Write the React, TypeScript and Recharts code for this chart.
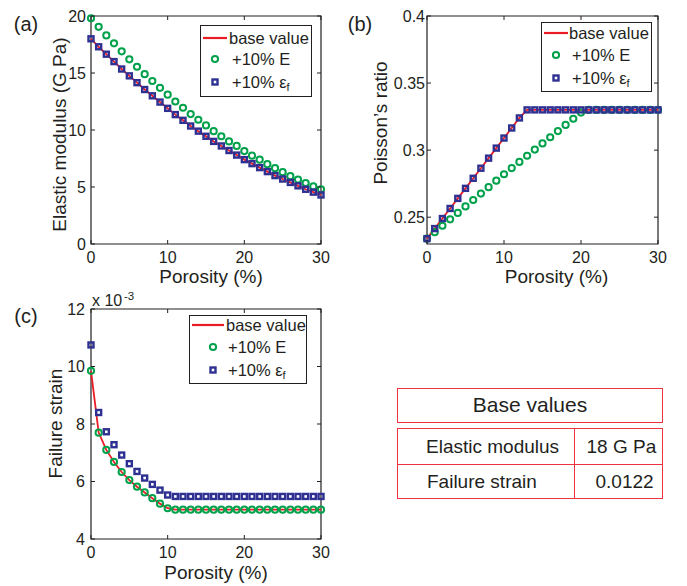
import { LineChart, Line, XAxis, YAxis, ReferenceArea, Legend, Label } from 'recharts';

// porosity (%) on every x axis
const porosity = [0, 1, 2, 3, 4, 5, 6, 7, 8, 9, 10, 11, 12, 13, 14, 15, 16, 17, 18, 19, 20, 21, 22, 23, 24, 25, 26, 27, 28, 29, 30];
const porosityTicks = [0, 10, 20, 30];

// (a) elastic modulus, G Pa
const modulusBase = [18.0, 17.3, 16.65, 16.0, 15.35, 14.75, 14.15, 13.55, 13.0, 12.45, 11.9, 11.35, 10.85, 10.35, 9.9, 9.45, 9.0, 8.6, 8.2, 7.8, 7.4, 7.05, 6.7, 6.35, 6.0, 5.7, 5.4, 5.1, 4.8, 4.55, 4.3];
const modulusE = [19.8, 19.05, 18.3, 17.6, 16.9, 16.2, 15.55, 14.9, 14.3, 13.7, 13.1, 12.5, 11.95, 11.4, 10.9, 10.4, 9.9, 9.45, 9.0, 8.6, 8.15, 7.75, 7.4, 7.0, 6.65, 6.3, 5.95, 5.65, 5.35, 5.05, 4.8];
const modulusEf = [18.0, 17.3, 16.65, 16.0, 15.35, 14.75, 14.15, 13.55, 13.0, 12.45, 11.9, 11.35, 10.85, 10.35, 9.9, 9.45, 9.0, 8.6, 8.2, 7.8, 7.4, 7.05, 6.7, 6.35, 6.0, 5.7, 5.4, 5.1, 4.8, 4.55, 4.3];
const modulusTicks = [0, 5, 10, 15, 20];

// (b) Poisson's ratio
const poissonBase = [0.234, 0.2415, 0.249, 0.2565, 0.264, 0.2715, 0.279, 0.2865, 0.294, 0.3015, 0.309, 0.3165, 0.324, 0.33, 0.33, 0.33, 0.33, 0.33, 0.33, 0.33, 0.33, 0.33, 0.33, 0.33, 0.33, 0.33, 0.33, 0.33, 0.33, 0.33, 0.33];
const poissonE = [0.234, 0.2388, 0.2436, 0.2484, 0.2532, 0.258, 0.2628, 0.2676, 0.2724, 0.2772, 0.282, 0.2866, 0.2912, 0.2958, 0.3004, 0.305, 0.3096, 0.3142, 0.3188, 0.3234, 0.328, 0.33, 0.33, 0.33, 0.33, 0.33, 0.33, 0.33, 0.33, 0.33, 0.33];
const poissonEf = [0.234, 0.2415, 0.249, 0.2565, 0.264, 0.2715, 0.279, 0.2865, 0.294, 0.3015, 0.309, 0.3165, 0.324, 0.33, 0.33, 0.33, 0.33, 0.33, 0.33, 0.33, 0.33, 0.33, 0.33, 0.33, 0.33, 0.33, 0.33, 0.33, 0.33, 0.33, 0.33];
const poissonTicks = [0.25, 0.3, 0.35, 0.4];

// (c) failure strain, x 10^-3
const strainBase = [9.85, 7.7, 7.1, 6.68, 6.33, 6.05, 5.82, 5.62, 5.42, 5.23, 5.07, 5.02, 5.02, 5.02, 5.02, 5.02, 5.02, 5.02, 5.02, 5.02, 5.02, 5.02, 5.02, 5.02, 5.02, 5.02, 5.02, 5.02, 5.02, 5.02, 5.02];
const strainE = [9.85, 7.7, 7.1, 6.68, 6.33, 6.05, 5.82, 5.62, 5.42, 5.23, 5.07, 5.02, 5.02, 5.02, 5.02, 5.02, 5.02, 5.02, 5.02, 5.02, 5.02, 5.02, 5.02, 5.02, 5.02, 5.02, 5.02, 5.02, 5.02, 5.02, 5.02];
const strainEf = [10.75, 8.4, 7.73, 7.28, 6.92, 6.62, 6.35, 6.12, 5.9, 5.7, 5.53, 5.48, 5.48, 5.48, 5.48, 5.48, 5.48, 5.48, 5.48, 5.48, 5.48, 5.48, 5.48, 5.48, 5.48, 5.48, 5.48, 5.48, 5.48, 5.48, 5.48];
const strainTicks = [4, 6, 8, 10, 12];

// base values table
const tableTitle = 'Base values';
const tableRows = [
  ['Elastic modulus', '18 G Pa'],
  ['Failure strain', '0.0122'],
];

const RED = '#ec1c24';
const GREEN = '#00a14b';
const BLUE = '#2e3192';
const INK = '#231f20';
const TABLE_RED = '#ee3340';
const FONT = '"Liberation Sans", Arial, Helvetica, sans-serif';

const buildRows = (base: number[], e: number[], ef: number[]) =>
  porosity.map((p, i) => ({ p, base: base[i], e: e[i], ef: ef[i] }));

type Box = { left: number; top: number; right: number; bottom: number };

const makeXTick = (box: Box) => (props: any) => {
  const { x, payload, index } = props;
  return (
    <g key={`xt-${index}`}>
      <line x1={x} x2={x} y1={box.bottom} y2={box.bottom - 4} stroke={INK} />
      <line x1={x} x2={x} y1={box.top} y2={box.top + 4} stroke={INK} />
      <text x={x} y={box.bottom + 19} textAnchor="middle" fontSize={16} fill={INK} fontFamily={FONT}>
        {payload.value}
      </text>
    </g>
  );
};

const makeYTick = (box: Box, gap: number) => (props: any) => {
  const { y, payload, index } = props;
  return (
    <g key={`yt-${index}`}>
      <line x1={box.left} x2={box.left + 4} y1={y} y2={y} stroke={INK} />
      <line x1={box.right} x2={box.right - 4} y1={y} y2={y} stroke={INK} />
      <text x={box.left - gap} y={y + 5.7} textAnchor="end" fontSize={16} fill={INK} fontFamily={FONT}>
        {payload.value}
      </text>
    </g>
  );
};

const circleDot = (props: any) => {
  const { cx, cy, index } = props;
  if (cx == null || cy == null) return <g key={`c-${index}`} />;
  return <circle key={`c-${index}`} cx={cx} cy={cy} r={3.1} fill="none" stroke={GREEN} strokeWidth={2} />;
};

const squareDot = (props: any) => {
  const { cx, cy, index } = props;
  if (cx == null || cy == null) return <g key={`s-${index}`} />;
  return <rect key={`s-${index}`} x={cx - 2.5} y={cy - 2.5} width={5} height={5} fill="none" stroke={BLUE} strokeWidth={2.4} />;
};

type LegendSpec = {
  left: number;
  top: number;
  w: number;
  h: number;
  lineX1: number;
  lineX2: number;
  textX: number;
  markX: number;
  text2X: number;
  rows: number[];
};

function LegendBox({ spec }: { spec: LegendSpec }) {
  const { w, h, rows } = spec;
  const textStyle = (left: number, cy: number) => ({
    position: 'absolute' as const,
    left: left - 1,
    top: cy - 10 - 1,
    lineHeight: '20px',
    whiteSpace: 'nowrap' as const,
  });
  return (
    <div
      style={{
        position: 'relative',
        width: w,
        height: h,
        border: `1px solid ${INK}`,
        boxSizing: 'border-box',
        background: '#fff',
        fontFamily: FONT,
        fontSize: 16.5,
        color: INK,
      }}
    >
      <svg width={w} height={h} style={{ position: 'absolute', left: -1, top: -1 }}>
        <line x1={spec.lineX1} x2={spec.lineX2} y1={rows[0]} y2={rows[0]} stroke={RED} strokeWidth={2.2} />
        <circle cx={spec.markX} cy={rows[1]} r={3.1} fill="none" stroke={GREEN} strokeWidth={2} />
        <rect x={spec.markX - 2.5} y={rows[2] - 2.5} width={5} height={5} fill="none" stroke={BLUE} strokeWidth={2.4} />
      </svg>
      <span style={textStyle(spec.textX, rows[0])}>base value</span>
      <span style={textStyle(spec.text2X, rows[1])}>+10% E</span>
      <span style={textStyle(spec.text2X, rows[2])}>
        +10% ε<sub style={{ fontSize: 11, verticalAlign: '-3px' }}>f</sub>
      </span>
    </div>
  );
}

type PanelProps = {
  left: number;
  top: number;
  width: number;
  height: number;
  box: Box;
  rows: any[];
  yDomain: [number, number];
  yTicks: number[];
  yGap: number;
  yLabel: string;
  yLabelX: number;
  yLabelY: number;
  xLabelX: number;
  xLabelY: number;
  letter: string;
  letterX: number;
  letterY: number;
  multiplier?: boolean;
  legend: LegendSpec;
};

function Panel(p: PanelProps) {
  const { box } = p;
  return (
    <div style={{ position: 'absolute', left: p.left, top: p.top }}>
      <LineChart
        width={p.width}
        height={p.height}
        data={p.rows}
        margin={{ top: box.top, right: p.width - box.right, left: 0, bottom: 0 }}
      >
        <ReferenceArea
          x1={0}
          x2={30}
          y1={p.yDomain[0]}
          y2={p.yDomain[1]}
          fill="none"
          fillOpacity={0}
          stroke={INK}
          strokeWidth={1.2}
          ifOverflow="visible"
        />
        <XAxis
          type="number"
          dataKey="p"
          domain={[0, 30]}
          ticks={porosityTicks}
          interval={0}
          height={p.height - box.bottom}
          axisLine={false}
          tickLine={false}
          tick={makeXTick(box)}
        >
          <Label
            content={() => (
              <text x={p.xLabelX} y={p.xLabelY} textAnchor="middle" fontSize={19} fill={INK} fontFamily={FONT}>
                Porosity (%)
              </text>
            )}
          />
        </XAxis>
        <YAxis
          type="number"
          domain={p.yDomain}
          ticks={p.yTicks}
          interval={0}
          width={box.left}
          axisLine={false}
          tickLine={false}
          tick={makeYTick(box, p.yGap)}
        >
          <Label
            content={() => (
              <g fontFamily={FONT} fill={INK}>
                <text
                  x={0}
                  y={0}
                  transform={`translate(${p.yLabelX},${p.yLabelY}) rotate(-90)`}
                  textAnchor="middle"
                  fontSize={19}
                >
                  {p.yLabel}
                </text>
                <text x={p.letterX} y={p.letterY} textAnchor="middle" fontSize={20}>
                  {p.letter}
                </text>
                {p.multiplier && (
                  <g>
                    <text x={92} y={16} fontSize={16}>x 10</text>
                    <text x={124} y={10} fontSize={11.5}>-3</text>
                  </g>
                )}
              </g>
            )}
          />
        </YAxis>
        <Line
          type="linear"
          dataKey="base"
          stroke={RED}
          strokeWidth={1.8}
          dot={false}
          activeDot={false}
          isAnimationActive={false}
        />
        <Line
          type="linear"
          dataKey="e"
          stroke="none"
          dot={circleDot}
          activeDot={false}
          isAnimationActive={false}
        />
        <Line
          type="linear"
          dataKey="ef"
          stroke="none"
          dot={squareDot}
          activeDot={false}
          isAnimationActive={false}
        />
        <Legend
          layout="horizontal"
          verticalAlign="middle"
          align="center"
          wrapperStyle={{ left: p.legend.left, top: p.legend.top, width: p.legend.w, height: p.legend.h }}
          content={() => <LegendBox spec={p.legend} />}
        />
      </LineChart>
    </div>
  );
}

function BaseTable() {
  const border = `1.5px solid ${TABLE_RED}`;
  return (
    <div style={{ fontFamily: FONT, color: INK }}>
      <div
        style={{
          position: 'absolute',
          left: 397,
          top: 388,
          width: 266,
          height: 35,
          border,
          boxSizing: 'border-box',
          fontSize: 21,
          lineHeight: '32px',
          textAlign: 'center',
        }}
      >
        {tableTitle}
      </div>
      <div
        style={{
          position: 'absolute',
          left: 397,
          top: 428,
          width: 266,
          height: 71,
          border,
          boxSizing: 'border-box',
          fontSize: 19,
        }}
      >
        <div style={{ position: 'absolute', left: 0, right: 0, top: 34.5, borderTop: border }} />
        <div style={{ position: 'absolute', left: 175.5, top: 0, bottom: 0, borderLeft: border }} />
        {tableRows.map((row, i) => (
          <div key={row[0]}>
            <span style={{ position: 'absolute', left: 28 + i, top: i * 35, lineHeight: '35px', whiteSpace: 'nowrap' }}>
              {row[0]}
            </span>
            <span
              style={{ position: 'absolute', left: i === 0 ? 188.5 : 197.5, top: i * 35, lineHeight: '35px', whiteSpace: 'nowrap' }}
            >
              {row[1]}
            </span>
          </div>
        ))}
      </div>
    </div>
  );
}

export default function App() {
  return (
    <div style={{ position: 'absolute', left: 0, top: 0, width: 687, height: 586, background: '#fff', fontFamily: FONT }}>
      <Panel
        left={0}
        top={0}
        width={340}
        height={290}
        box={{ left: 91, top: 16, right: 321, bottom: 244 }}
        rows={buildRows(modulusBase, modulusE, modulusEf)}
        yDomain={[0, 20]}
        yTicks={modulusTicks}
        yGap={5}
        yLabel="Elastic modulus (G Pa)"
        yLabelX={65.5}
        yLabelY={134.5}
        xLabelX={211}
        xLabelY={283.3}
        letter="(a)"
        letterX={26}
        letterY={31}
        legend={{ left: 200, top: 25, w: 112, h: 72, lineX1: 3, lineX2: 27, textX: 29, markX: 15, text2X: 32, rows: [13, 34, 57] }}
      />
      <Panel
        left={340}
        top={0}
        width={347}
        height={290}
        box={{ left: 87, top: 16, right: 318, bottom: 244 }}
        rows={buildRows(poissonBase, poissonE, poissonEf)}
        yDomain={[0.23, 0.4]}
        yTicks={poissonTicks}
        yGap={2}
        yLabel="Poisson’s ratio"
        yLabelX={46.5}
        yLabelY={123}
        xLabelX={216.5}
        xLabelY={283.3}
        letter="(b)"
        letterX={20}
        letterY={31}
        legend={{ left: 201, top: 22, w: 111, h: 70, lineX1: 3, lineX2: 27, textX: 28, markX: 15, text2X: 31, rows: [11, 33, 56] }}
      />
      <Panel
        left={0}
        top={290}
        width={340}
        height={296}
        box={{ left: 91, top: 19, right: 321, bottom: 249 }}
        rows={buildRows(strainBase, strainE, strainEf)}
        yDomain={[4, 12]}
        yTicks={strainTicks}
        yGap={6}
        yLabel="Failure strain"
        yLabelX={61.7}
        yLabelY={423.5 - 290}
        xLabelX={216}
        xLabelY={289.3}
        letter="(c)"
        letterX={26}
        letterY={32.5}
        multiplier
        legend={{ left: 189, top: 25, w: 118, h: 69, lineX1: 3, lineX2: 35, textX: 37, markX: 24, text2X: 39, rows: [10, 32, 55] }}
      />
      <BaseTable />
    </div>
  );
}
